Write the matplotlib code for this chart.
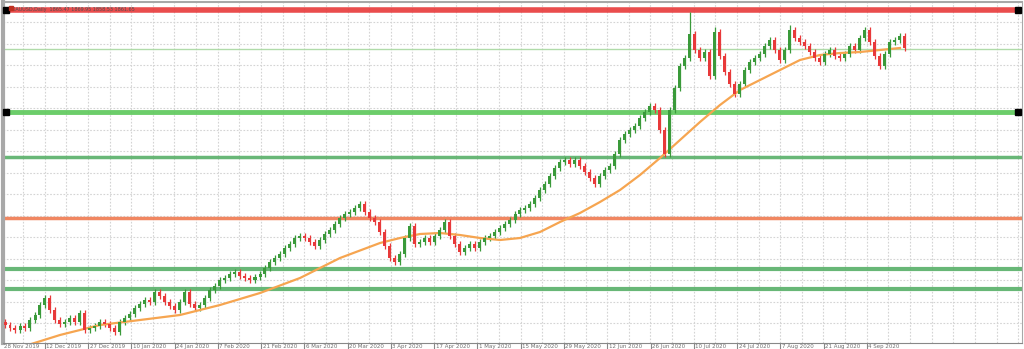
import numpy as np
import matplotlib.pyplot as plt

# daily closes (price units), one candle per bar
closes = [24, 21, 19, 23, 21, 29, 34, 44, 51, 39,
          29, 25, 27, 31, 27, 36, 19, 21, 23, 27,
          25, 21, 17, 27, 31, 35, 41, 45, 49, 47,
          57, 53, 47, 43, 39, 47, 57, 45, 41, 44,
          51, 59, 63, 69, 71, 75, 77, 73, 71, 69,
          72, 75, 81, 87, 91, 95, 101, 105, 111, 113,
          111, 107, 103, 109, 115, 119, 125, 131, 135, 137,
          141, 145, 137, 131, 127, 117, 103, 91, 87, 95,
          111, 123, 105, 107, 111, 107, 113, 119, 127, 113,
          105, 97, 101, 105, 101, 107, 111, 113, 117, 121,
          125, 129, 135, 139, 141, 145, 151, 159, 165, 173,
          181, 187, 189, 185, 189, 183, 177, 171, 165, 173,
          179, 183, 195, 209, 215, 219, 223, 231, 237, 243,
          239, 219, 195, 239, 261, 283, 291, 315, 299, 291,
          297, 273, 317, 293, 277, 265, 255, 265, 279, 287,
          291, 295, 303, 309, 299, 289, 299, 319, 311, 307,
          303, 297, 291, 287, 295, 299, 293, 291, 295, 303,
          299, 311, 319, 307, 293, 283, 295, 307, 309, 313,
          301]
first_open = 27
wick = 3
long_highs = {137: 337, 142: 322, 157: 324}   # candles with long upper shadows

# moving average, read at a few candles
ma_idx = [4.6, 11, 19, 27, 35, 43, 51, 59, 67, 75, 79, 83, 87, 91, 95, 99, 103,
          107, 111, 115, 119, 123, 127, 131, 135, 139, 143, 147, 151, 155, 159,
          163, 167, 171, 175, 179]
ma_val = [4, 14, 24, 29, 34, 44, 56, 71, 91, 106, 111, 115, 116, 114, 111, 109, 111,
          117, 127, 136, 147, 159, 174, 191, 209, 227, 244, 259, 269, 279, 289,
          294, 296, 297, 299, 301]

# horizontal levels drawn on the chart
levels = [339.5, 300, 237, 192, 131, 80, 60]
level_colors = ['#e8393a', '#a8d8a0', '#5cc85a', '#58b068', '#f07a50', '#58b068', '#58b068']
level_widths = [4, 1, 3.5, 2.5, 2.5, 3, 3]

date_labels = ['28 Nov 2019', '12 Dec 2019', '27 Dec 2019', '10 Jan 2020', '24 Jan 2020',
               '7 Feb 2020', '21 Feb 2020', '6 Mar 2020', '20 Mar 2020', '3 Apr 2020',
               '17 Apr 2020', '1 May 2020', '15 May 2020', '29 May 2020', '12 Jun 2020',
               '26 Jun 2020', '10 Jul 2020', '24 Jul 2020', '7 Aug 2020', '21 Aug 2020',
               '4 Sep 2020']

fig = plt.figure(figsize=(10.24, 3.49), dpi=100)
ax = fig.add_axes([3 / 1024, 6 / 349, 1019 / 1024, 341 / 349])
ax.set_xlim(-0.4, 203.4)
ax.set_ylim(6, 347)

# grid
for gx in np.arange(3.6, 204, 4.327):
    ax.axvline(gx, color='#d4d4d4', lw=0.8, ls=(0, (1.5, 1.5)), zorder=0)
for gy in np.arange(26, 347, 21.5):
    ax.axhline(gy, color='#d4d4d4', lw=0.8, ls=(0, (1.5, 1.5)), zorder=0)

# levels
for lv, c, w in zip(levels, level_colors, level_widths):
    ax.axhline(lv, color=c, lw=w, zorder=2, alpha=0.9)
for lv in (levels[0], levels[2]):
    ax.plot([0.2, 202.6], [lv, lv], 's', color='black', ms=4.5, zorder=5, clip_on=False)

# candles
x = np.arange(len(closes))
opens = np.array([first_open] + closes[:-1])
cl = np.array(closes)
up = cl >= opens
cols = np.where(up, '#3a9a3a', '#e8393a')
lo = np.minimum(opens, cl)
hi = np.maximum(opens, cl)
highs = hi + wick
for k, v in long_highs.items():
    highs[k] = v
ax.vlines(x, lo - wick, highs, colors=cols, lw=0.9, zorder=3)
ax.bar(x, np.maximum(hi - lo, 1.2), bottom=lo, width=0.6, color=cols, zorder=4)

# moving average
ax.plot(ma_idx, ma_val, color='#f6a550', lw=1.6, zorder=3)

# frame
for s in ax.spines.values():
    s.set_color('#a8a8a8')
ax.spines['left'].set_linewidth(3)
ax.spines['top'].set_linewidth(1.5)
ax.spines['right'].set_linewidth(0.8)
ax.spines['bottom'].set_color('#888888')

sep = np.arange(7.95, 7.95 + 8.654 * len(date_labels) - 8.654 + 0.1, 8.654)[:len(date_labels) - 1]
ax.set_xticks(sep)
ax.set_xticklabels([])
ax.tick_params(axis='x', direction='out', length=5, color='#888888', width=0.8)
ax.set_yticks([])
for i, lab in enumerate(date_labels):
    xpos = -0.2 if i == 0 else sep[i - 1] + 0.3
    ax.text(xpos, -0.004, lab, transform=ax.get_xaxis_transform(), fontsize=4,
            color='#707070', va='top', ha='left', clip_on=False)

# header
ax.text(0.009, 0.985, 'XAUUSD,Daily  1865.47 1869.95 1858.53 1861.65',
        transform=ax.transAxes, fontsize=3.5, color='#505050', va='top', ha='left')
ax.plot([1.1], [341], 's', color='#c03020', ms=3, zorder=6)

fig.savefig('out.png', dpi=100)
